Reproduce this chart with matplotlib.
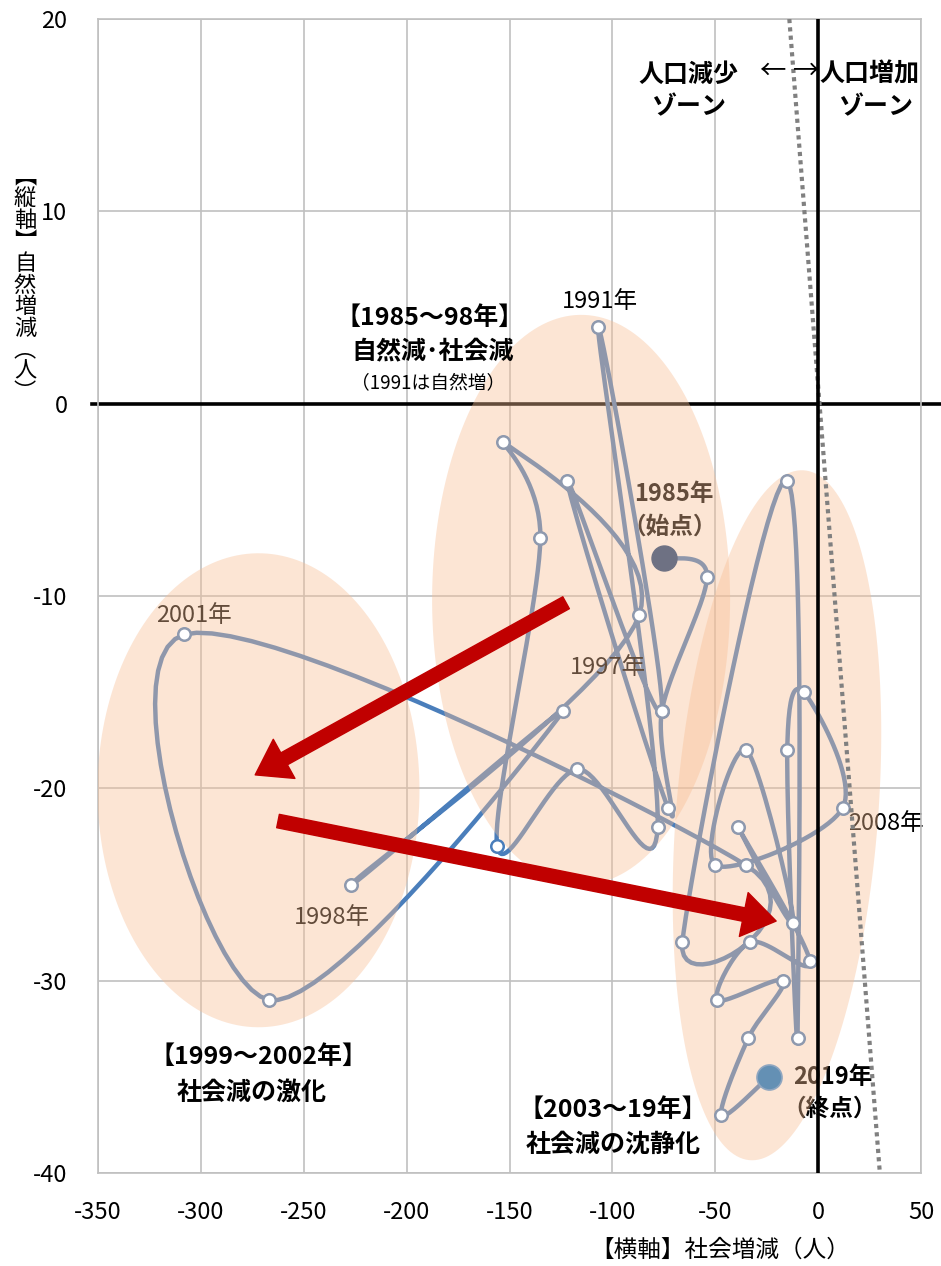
import matplotlib
matplotlib.use("Agg")
import matplotlib.pyplot as plt
import numpy as np
from matplotlib.patches import Polygon

plt.rcParams["font.family"] = ["Noto Sans CJK JP", "DejaVu Sans"]
plt.rcParams["axes.unicode_minus"] = False

# ── データ（社会増減, 自然増減）1985→2019 ─────────────────────────
years = list(range(1985, 2020))
social = [-75, -54, -76, -73, -122, -76, -107, -78, -117, -156, -135, -153, -87,
          -227, -124, -267, -308,
          -35, -66, -15, -10, -15, -7, 12, -50, -35, -12, -39, -4, -33, -49, -17,
          -34, -47, -24]
natural = [-8, -9, -16, -21, -4, -16, 4, -22, -19, -23, -7, -2, -11,
           -25, -16, -31, -12,
           -24, -28, -4, -33, -18, -15, -21, -24, -18, -27, -22, -29, -28, -31, -30,
           -33, -37, -35]

xticks = [-350, -300, -250, -200, -150, -100, -50, 0, 50]
yticks = [20, 10, 0, -10, -20, -30, -40]

W, H = 941, 1266
fig = plt.figure(figsize=(W / 100, H / 100), dpi=100)
ax = fig.add_axes([98 / W, 1 - 1173 / H, 823 / W, 1154 / H])
ax.set_xlim(-350, 50)
ax.set_ylim(-40, 20)
ax.set_xticks(xticks)
ax.set_yticks(yticks)
ax.tick_params(length=0, labelsize=17)
ax.tick_params(axis="x", pad=20)
ax.tick_params(axis="y", pad=22)
ax.grid(color="#c0c0c0", lw=1.2, zorder=0)
ax.set_axisbelow(True)
for s in ax.spines.values():
    s.set_color("#c0c0c0")
    s.set_linewidth(1.2)

# 軸のピクセル換算
p0 = ax.transData.transform((0, 0))
sx = ax.transData.transform((1, 0))[0] - p0[0]
sy = ax.transData.transform((0, 1))[1] - p0[1]


def px(x, y):
    """画像ピクセル位置 → データ座標"""
    return (x - 818) / 2.0575, (404 - y) / 19.23


def smooth(xs, ys, n=24):
    """Excel風の平滑線（ピクセル空間でCatmull-Rom）"""
    P = np.column_stack([np.array(xs) * sx, np.array(ys) * sy])
    out = [P[0]]
    for i in range(len(P) - 1):
        a = P[i - 1] if i > 0 else P[i]
        b, c = P[i], P[i + 1]
        d = P[i + 2] if i + 2 < len(P) else P[i + 1]
        c1 = b + (c - a) / 6
        c2 = c - (d - b) / 6
        t = np.linspace(0, 1, n)[1:, None]
        seg = (1 - t) ** 3 * b + 3 * (1 - t) ** 2 * t * c1 + 3 * (1 - t) * t ** 2 * c2 + t ** 3 * c
        out.extend(seg)
    out = np.array(out)
    return out[:, 0] / sx, out[:, 1] / sy


def ellipse(cx, cy, a_px, b_px, ang):
    """ピクセル単位の楕円をデータ座標の多角形に"""
    t = np.linspace(0, 2 * np.pi, 200)
    th = np.radians(ang)
    ex = a_px * np.cos(t)
    ey = b_px * np.sin(t)
    rx = ex * np.cos(th) - ey * np.sin(th)
    ry = ex * np.sin(th) + ey * np.cos(th)
    return np.column_stack([cx + rx / sx, cy + ry / sy])


# 基準線
ax.plot([-353, 63], [0, 0], color="black", lw=2.6, zorder=2, clip_on=False)
ax.plot([-14, 30], [20, -40], color="#808080", lw=3, ls=(0, (1, 1)), zorder=6)
ax.plot([0, 0], [20, -40], color="black", lw=2.6, zorder=6)

# 軌跡
lx, ly = smooth(social, natural)
ax.plot(lx, ly, color="#4a7ebb", lw=3.2, zorder=2, solid_capstyle="round")


def label(x, y, s, size=17, bold=False, z=2):
    ax.text(*px(x, y), s, fontsize=size, fontweight="bold" if bold else "normal",
            ha="center", va="center", zorder=z)


# ラベル（楕円の下）
label(600, 302, "1991年")
label(674, 494, "1985年", bold=True)
label(670, 527, "（始点）", bold=True)
label(608, 668, "1997年")
label(194, 616, "2001年")
label(332, 918, "1998年")
label(886, 824, "2008年")
label(833, 1077, "2019年", bold=True)
label(830, 1109, "（終点）", bold=True)

# 楕円（半透明）
ells = [
    ellipse(-115.2, -10.2, 149, 285, 0),
    ellipse(-272, -20.1, 161, 237, 0),
    ellipse(-20, -21.4, 101, 346, -4.5),
]
polys = []
for e in ells:
    pg = Polygon(e, closed=True, facecolor="#f8bf95", edgecolor="none", alpha=0.4, zorder=3)
    ax.add_patch(pg)
    polys.append(pg)

# マーカー
for x, y in zip(social, natural):
    d = ax.transData.transform((x, y))
    inside = any(p.get_path().contains_point(d, transform=p.get_transform()) for p in polys)
    ec = "#8e99ae" if inside else "#4a7ebb"
    ax.plot(x, y, "o", ms=9, mfc="white", mec=ec, mew=1.8, zorder=4)
ax.plot(social[0], natural[0], "o", ms=18, color="#6e7183", zorder=5)
ax.plot(social[-1], natural[-1], "o", ms=18, mfc="#6490b4", mec="#8fa6c0", mew=1.2, zorder=5)

# 矢印
arrow = dict(arrowstyle="simple,head_length=1.7,head_width=2.3,tail_width=0.7",
             color="#c00000", mutation_scale=14, shrinkA=0, shrinkB=0)
ax.annotate("", xy=(-273.6, -19.3), xytext=(-122.5, -10.35), arrowprops=arrow, zorder=7)
ax.annotate("", xy=(-20.4, -26.9), xytext=(-262.5, -21.7), arrowprops=arrow, zorder=7)

# 説明文
label(430, 318, "【1985～98年】", 18, True, 7)
label(433, 352, "自然減･社会減", 18, True, 7)
label(428, 383, "（1991は自然増）", 13.5, False, 7)
label(258, 1057, "【1999～2002年】", 18, True, 7)
label(252, 1093, "社会減の激化", 18, True, 7)
label(613, 1110, "【2003～19年】", 18, True, 7)
label(613, 1145, "社会減の沈静化", 18, True, 7)
label(688, 75, "人口減少", 18, True, 7)
label(688, 108, "ゾーン", 18, True, 7)
label(772, 72, "←", 19, False, 7)
label(806, 72, "→", 19, False, 7)
label(869, 75, "人口増加", 18, True, 7)
label(875, 108, "ゾーン", 18, True, 7)

# 軸タイトル
fig.text(720 / W, 1 - 1250 / H, "【横軸】社会増減（人）", fontsize=17, ha="center", va="center")
fig.text(25 / W, 1 - 285 / H, "︻\n縦\n軸\n︼\n自\n然\n増\n減\n︵\n人\n︶", fontsize=16,
         ha="center", va="center", linespacing=0.92)

fig.savefig("out.png", dpi=100)
